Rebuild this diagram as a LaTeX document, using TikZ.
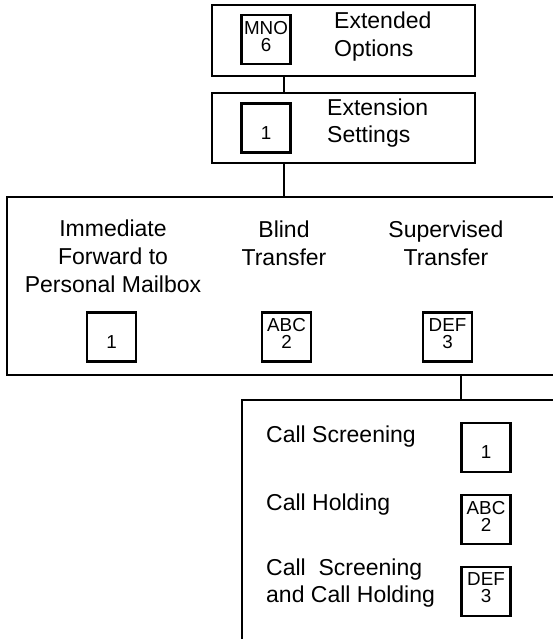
\documentclass[tikz,border=0pt]{standalone}
\usepackage{fontspec}
\setmainfont{Liberation Sans}
\usetikzlibrary{positioning}
\newcommand\keylbl[2]{#1\\#2\rule[-7pt]{0pt}{7pt}}

\begin{document}
\begin{tikzpicture}[x=1pt,y=-1pt,
  frame/.style={draw,line width=1.6pt,inner sep=0pt},
  keybox/.style={draw,line width=2.7pt,minimum size=49pt,inner sep=0pt,align=center,font=\fontsize{18.8}{17}\selectfont},
  menutxt/.style={inner sep=0pt,font=\fontsize{23}{28}\selectfont},
  link/.style={line width=1.5pt}]
\useasboundingbox (0,0) rectangle (553,639);
\clip (0,0) rectangle (553,639);
\coordinate (trunk) at (284,0);
\coordinate (branch) at (461,0);
% top menus
\node[frame,minimum width=263pt,minimum height=71pt] (extopt) at (343.5,40.5) {};
\node[keybox] (optkey) at (266,39.5) {\keylbl{MNO}{6}};
\node[menutxt,anchor=base west,align=left] (opttxt) at (334,57) {Extended\\Options};
\node[frame,minimum width=263pt,minimum height=70pt] (extset) at (343.5,128) {};
\node[keybox] (setkey) at (266,128) {\keylbl{\phantom{A}}{1}};
\node[menutxt,anchor=base west,align=left] (settxt) at (327,143) {Extension\\Settings};
% forward menu
\node[frame,minimum width=560pt,minimum height=178pt] (fwdmenu) at (287,286) {};
\foreach \n/\x/\y/\kx/\t/\k in {imm/113/292/111.5/{Immediate\\Forward to\\Personal Mailbox}/{\phantom{A}}{1},
    blind/284/265/286.5/{Blind\\Transfer}/{ABC}{2},
    sup/446/265/447.5/{Supervised\\Transfer}/{DEF}{3}}{
  \node[menutxt,anchor=base,align=center] (\n txt) at (\x,\y) {\t};
  \node[keybox] (\n key) at (\kx,337) {\expandafter\keylbl\k};
}
% screening menu
\node[frame,minimum width=328pt,minimum height=250pt] (screen) at (406,525) {};
\node[menutxt,anchor=base west] (scrtxt) at (266,442) {Call Screening};
\node[menutxt,anchor=base west] (holdtxt) at (266,510) {Call Holding};
\node[menutxt,anchor=base west,align=left,font=\fontsize{23}{27}\selectfont] (bothtxt) at (266,602) {Call\ \ Screening\\and Call Holding};
\node[keybox] (scrkey) at (486,447.5) {\keylbl{\phantom{A}}{1}};
\node[keybox] (holdkey) at (486,519.5) {\keylbl{ABC}{2}};
\node[keybox] (bothkey) at (486,591.5) {\keylbl{DEF}{3}};
% connectors
\draw[link] (extopt.south -| trunk) -- (extset.north -| trunk);
\draw[link] (extset.south -| trunk) -- (fwdmenu.north -| trunk);
\draw[link] (fwdmenu.south -| branch) -- (screen.north -| branch);
\end{tikzpicture}
\end{document}
